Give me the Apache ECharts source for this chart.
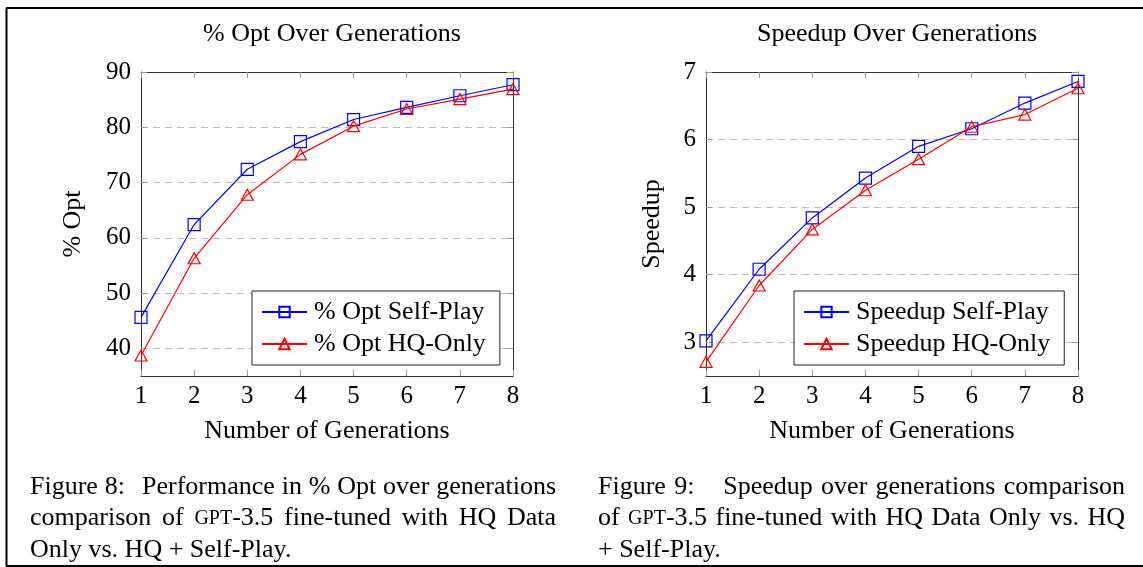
<!DOCTYPE html>
<html>
<head>
<meta charset="utf-8">
<script src="https://cdn.jsdelivr.net/npm/echarts@6/dist/echarts.min.js"></script>
<style>
html,body{margin:0;padding:0;background:#fff;}
#chart{width:1143px;height:567px;}
</style>
</head>
<body>
<div id="chart"></div>
<script>
// ---- data ----
const generations = [1, 2, 3, 4, 5, 6, 7, 8];
const optSelfPlay = [45.6, 62.4, 72.4, 77.4, 81.4, 83.6, 85.7, 87.7];
const optHQOnly = [38.7, 56.3, 67.8, 75.1, 80.2, 83.3, 85.1, 86.9];
const speedupSelfPlay = [3.02, 4.08, 4.84, 5.43, 5.90, 6.16, 6.54, 6.86];
const speedupHQOnly = [2.71, 3.84, 4.67, 5.25, 5.71, 6.19, 6.37, 6.76];
const optTicks = [40, 50, 60, 70, 80, 90];
const speedupTicks = [3, 4, 5, 6, 7];
const genTicks = [1, 2, 3, 4, 5, 6, 7, 8];

const titles = ['% Opt Over Generations', 'Speedup Over Generations'];
const yNames = ['% Opt', 'Speedup'];
const xName = 'Number of Generations';
const seriesNames = [['% Opt Self-Play', '% Opt HQ-Only'], ['Speedup Self-Play', 'Speedup HQ-Only']];
const caption8 = [
  'Figure 8:  Performance in % Opt over generations',
  'comparison of {sc|GPT}-3.5 fine-tuned with HQ Data',
  'Only vs. HQ + Self-Play.'
];
const caption9 = [
  'Figure 9:   Speedup over generations comparison',
  'of {sc|GPT}-3.5 fine-tuned with HQ Data Only vs. HQ',
  '+ Self-Play.'
];

// ---- styling ----
const FONT = '"Liberation Serif", "Times New Roman", serif';
const FS = 26;
const SC_FS = 20;
const BLUE = '#0000ff';
const RED = '#ff0000';
const gridPos = [
  {left: 141, top: 72, width: 372, height: 304},
  {left: 706, top: 72, width: 372, height: 304}
];
const yRanges = [[35, 90, optTicks], [2.5, 7, speedupTicks]];

const chart = echarts.init(document.getElementById('chart'), null, {renderer: 'canvas'});

const axisLineStyle = {color: '#333', width: 1};
const tickStyle = {color: '#999', width: 1};

const xAxes = [];
const yAxes = [];
[0, 1].forEach(g => {
  xAxes.push({
    type: 'value', gridIndex: g, min: 1, max: 8, interval: 1, position: 'bottom',
    name: xName, nameLocation: 'middle', nameGap: 42,
    nameTextStyle: {fontFamily: FONT, fontSize: FS, color: '#000'},
    axisLine: {show: true, lineStyle: axisLineStyle},
    axisTick: {show: true, inside: true, length: 6, lineStyle: tickStyle, customValues: genTicks},
    axisLabel: {fontFamily: FONT, fontSize: 25, color: '#000', margin: 8, customValues: genTicks},
    splitLine: {show: false}
  });
  xAxes.push({
    type: 'value', gridIndex: g, min: 1, max: 8, interval: 1, position: 'top',
    axisLine: {show: true, lineStyle: axisLineStyle},
    axisTick: {show: true, inside: true, length: 6, lineStyle: tickStyle},
    axisLabel: {show: false},
    splitLine: {show: false}
  });
  const [mn, mx, ticks] = yRanges[g];
  yAxes.push({
    type: 'value', gridIndex: g, min: mn, max: mx, position: 'left',
    name: yNames[g], nameLocation: 'middle', nameGap: g === 0 ? 55 : 41,
    nameTextStyle: {fontFamily: FONT, fontSize: FS, color: '#000'},
    axisLine: {show: true, lineStyle: axisLineStyle},
    axisTick: {show: true, inside: true, length: 6, lineStyle: tickStyle, customValues: ticks},
    axisLabel: {fontFamily: FONT, fontSize: 25, color: '#000', margin: 10, customValues: ticks},
    splitLine: {show: true, lineStyle: {color: '#bbb', type: [7, 5], width: 1}}
  });
  yAxes.push({
    type: 'value', gridIndex: g, min: mn, max: mx, position: 'right',
    axisLine: {show: true, lineStyle: axisLineStyle},
    axisTick: {show: true, inside: true, length: 6, lineStyle: tickStyle, customValues: ticks},
    axisLabel: {show: false},
    splitLine: {show: false}
  });
});

function mkSeries(name, values, color, symbol, g) {
  return {
    name: name, type: 'line', xAxisIndex: g * 2, yAxisIndex: g * 2,
    data: generations.map((x, i) => [x, values[i]]),
    symbol: symbol, symbolSize: symbol === 'rect' ? 12 : [12, 11],
    showSymbol: true,
    lineStyle: {color: color, width: 1.2},
    itemStyle: {color: 'rgba(255,255,255,0)', borderColor: color, borderWidth: 1.2},
    emphasis: {disabled: true},
    animation: false,
    z: symbol === 'rect' ? 3 : 4
  };
}

const series = [
  mkSeries(seriesNames[0][0], optSelfPlay, BLUE, 'rect', 0),
  mkSeries(seriesNames[0][1], optHQOnly, RED, 'triangle', 0),
  mkSeries(seriesNames[1][0], speedupSelfPlay, BLUE, 'rect', 1),
  mkSeries(seriesNames[1][1], speedupHQOnly, RED, 'triangle', 1)
];

const legendLefts = [252, 794];
const legends = [0, 1].map(g => ({
  orient: 'vertical', left: legendLefts[g], top: 291,
  data: seriesNames[g],
  backgroundColor: '#fff',
  borderColor: '#222', borderWidth: 1,
  padding: [8, 14, 8, 9],
  itemWidth: 45, itemHeight: 13, itemGap: 6,
  textStyle: {fontFamily: FONT, fontSize: FS, color: '#000', lineHeight: 26, padding: [0, 0, 0, 2]},
  selectedMode: false
}));

// ---- justified caption layout (measured with canvas) ----
const mctx = document.createElement('canvas').getContext('2d');
function measureWord(w) {
  let total = 0;
  const re = /\{sc\|([^}]*)\}/g;
  let last = 0, m;
  while ((m = re.exec(w)) !== null) {
    mctx.font = FS + 'px ' + FONT;
    total += mctx.measureText(w.slice(last, m.index)).width;
    mctx.font = SC_FS + 'px ' + FONT;
    total += mctx.measureText(m[1]).width;
    last = re.lastIndex;
  }
  mctx.font = FS + 'px ' + FONT;
  total += mctx.measureText(w.slice(last)).width;
  return total;
}
function textStyle(t) {
  return {text: t, fontFamily: FONT, fontSize: FS, fill: '#000',
          rich: {sc: {fontFamily: FONT, fontSize: SC_FS, fill: '#000'}}};
}
function captionGraphics(lines, left, right) {
  const out = [];
  lines.forEach((line, i) => {
    const top = 474 + i * 31.5;
    if (i === lines.length - 1) {
      out.push({type: 'text', x: left, y: top, silent: true, style: textStyle(line)});
      return;
    }
    // words and the number of spaces after each (a wider space weighs more)
    const parts = line.split(/( +)/);
    const words = [], weights = [];
    for (let k = 0; k < parts.length; k += 2) {
      words.push(parts[k]);
      if (k + 1 < parts.length) weights.push(parts[k + 1].length === 1 ? 1 : parts[k + 1].length + 0.5);
    }
    const widths = words.map(measureWord);
    const sum = widths.reduce((a, b) => a + b, 0);
    const wsum = weights.reduce((a, b) => a + b, 0);
    const unit = (right - left - sum) / wsum;
    let x = left;
    words.forEach((w, k) => {
      out.push({type: 'text', x: x, y: top, silent: true, style: textStyle(w)});
      x += widths[k] + (k < weights.length ? weights[k] * unit : 0);
    });
  });
  return out;
}

const option = {
  animation: false,
  backgroundColor: '#fff',
  title: [
    {text: titles[0], left: 327, top: 16, textAlign: 'center',
     textStyle: {fontFamily: FONT, fontSize: FS, fontWeight: 'normal', color: '#000'}},
    {text: titles[1], left: 892, top: 16, textAlign: 'center',
     textStyle: {fontFamily: FONT, fontSize: FS, fontWeight: 'normal', color: '#000'}}
  ],
  grid: gridPos.map(p => Object.assign({containLabel: false}, p)),
  xAxis: xAxes,
  yAxis: yAxes,
  legend: legends,
  series: series,
  graphic: [
    {type: 'line', shape: {x1: 6.5, y1: 8, x2: 6.5, y2: 566}, style: {stroke: '#000', lineWidth: 2}, silent: true},
    {type: 'line', shape: {x1: 6, y1: 8, x2: 1143, y2: 8}, style: {stroke: '#000', lineWidth: 2}, silent: true},
    {type: 'line', shape: {x1: 6, y1: 566, x2: 1143, y2: 566}, style: {stroke: '#000', lineWidth: 2}, silent: true}
  ].concat(captionGraphics(caption8, 30, 556)).concat(captionGraphics(caption9, 598, 1125))
};

chart.setOption(option);
</script>
</body>
</html>
